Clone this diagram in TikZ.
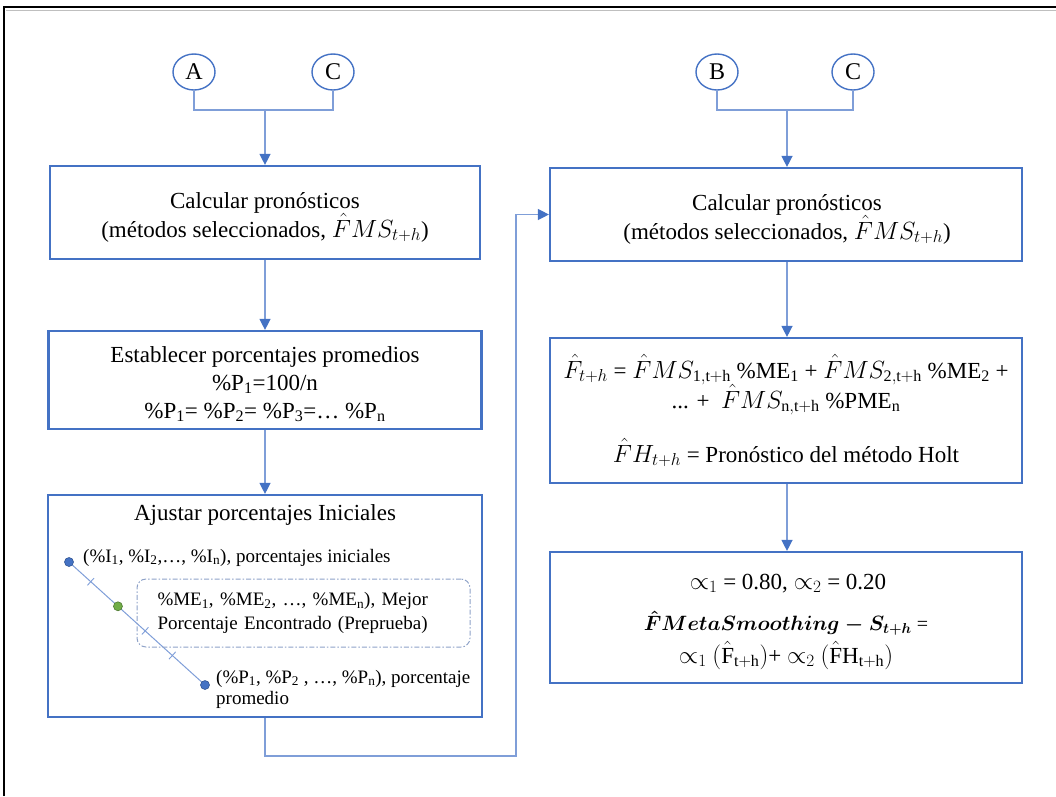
\documentclass[tikz,border=0pt]{standalone}
\usepackage{amsmath}
\usepackage{fontspec}
\setmainfont{Liberation Serif}
\usetikzlibrary{arrows.meta,shapes.geometric,calc}

\definecolor{boxblue}{HTML}{4472C4}
\definecolor{linkblue}{HTML}{7F9ED8}
\definecolor{dotgreen}{HTML}{70AD47}
\definecolor{dashgray}{HTML}{8EA2C8}

\tikzset{
  bigtext/.style={font=\fontsize{23}{28.5}\selectfont},
  smalltext/.style={font=\fontsize{19}{24}\selectfont},
  line/.style={anchor=base, inner sep=0pt, bigtext},
  stepbox/.style={draw=boxblue, line width=2.2pt, inner sep=0pt},
  connector/.style={draw=boxblue, ellipse, line width=1.4pt, inner sep=0pt,
    minimum width=42pt, minimum height=36pt, font=\fontsize{24}{28}\selectfont},
  link/.style={draw=linkblue, line width=1.3pt},
  arrowlink/.style={link, -{Triangle[length=11pt,width=11pt,color=boxblue]}},
  dotnode/.style={circle, fill=boxblue, draw=boxblue!75!black, line width=0.6pt,
    minimum size=9pt, inner sep=0pt},
  greendot/.style={dotnode, fill=dotgreen, draw=dotgreen!70!black},
  tick/.style={draw=linkblue, line width=0.9pt},
  bestbox/.style={draw=dashgray, line width=1pt, rounded corners=9pt,
    dash pattern=on 5pt off 2pt on 1.5pt off 2pt,
    minimum width=333pt, minimum height=68pt, inner sep=0pt,
    text width=292pt, align=left, smalltext},
}

\begin{document}
\begin{tikzpicture}[x=1pt,y=-1pt]
  \useasboundingbox (0,0) rectangle (1056,796);
  % page frame
  \draw[gray!50, line width=1pt] (6,10) -- (1056,10);
  \draw[black, line width=2pt] (4,796) -- (4,7) -- (1056,7);

  % connector circles
  \node[connector] (A)  at (194,72) {A};
  \node[connector] (C1) at (333,72) {C};
  \node[connector] (B)  at (717,72) {B};
  \node[connector] (C2) at (853,72) {C};
  \coordinate (mL) at (265,110);
  \coordinate (mR) at (787,110);

  % step boxes, left column
  \node[stepbox, minimum width=430pt, minimum height=93pt] (L1) at (265,212.5) {};
  \node[stepbox, minimum width=433pt, minimum height=98pt] (L2) at (265,380) {};
  \node[stepbox, minimum width=434pt, minimum height=222pt] (L3) at (265,606) {};

  % step boxes, right column
  \node[stepbox, minimum width=472pt, minimum height=93pt] (R1) at (786,214.5) {};
  \node[stepbox, minimum width=472pt, minimum height=145pt] (R2) at (786,410.5) {};
  \node[stepbox, minimum width=472pt, minimum height=131pt] (R3) at (786,617.5) {};

  % connectors between steps
  \draw[link] (A.south) |- (mL) -| (C1.south);
  \draw[arrowlink] (mL) -- (L1.north);
  \draw[link] (B.south) |- (mR) -| (C2.south);
  \draw[arrowlink] (mR) -- (R1.north -| mR);
  \draw[arrowlink] (L1.south) -- (L2.north);
  \draw[arrowlink] (L2.south) -- (L3.north);
  \draw[arrowlink] (R1.south -| mR) -- (R2.north -| mR);
  \draw[arrowlink] (R2.south -| mR) -- (R3.north -| mR);
  \coordinate (jB) at (265,756);
  \coordinate (jR) at (516,756);
  \draw[arrowlink] (L3.south -| jB) -- (jB) -- (jR) |- (R1.west);

  % forecast steps
  \node[line] (l1a) at (265,208) {Calcular pronósticos};
  \node[line] (l1b) at (265,237) {(métodos seleccionados, $\hat{F}MS_{t+h}$)};
  \node[line] (r1a) at (787,210) {Calcular pronósticos};
  \node[line] (r1b) at (787,239) {(métodos seleccionados, $\hat{F}MS_{t+h}$)};

  % average percentages
  \node[line] (l2a) at (265,362) {Establecer porcentajes promedios};
  \node[line] (l2b) at (265,390) {\%P\textsubscript{1}=100/n};
  \node[line] (l2c) at (265,418)
    {\%P\textsubscript{1}= \%P\textsubscript{2}= \%P\textsubscript{3}=… \%P\textsubscript{n}};

  % contents of the adjustment step
  \node[line] (L3t) at (265,520) {Ajustar porcentajes Iniciales};
  \coordinate (p1) at (69,562);
  \coordinate (p2) at (205,685);
  \coordinate (pg) at ($(p1)!0.36!(p2)$);
  \draw[link, line width=1pt] (p1) -- (p2);
  \foreach \f in {0.16,0.56,0.76}
    \draw[tick] ($(p1)!\f!(p2)$) +(3.3,-3.6) -- +(-3.3,3.6);
  \node[dotnode] (d1) at (p1) {};
  \node[greendot] (g) at (pg) {};
  \node[dotnode] (d2) at (p2) {};
  \node[smalltext, anchor=base west, inner sep=0pt] (ini) at (83,562)
    {(\%I\textsubscript{1}, \%I\textsubscript{2},…, \%I\textsubscript{n}), porcentajes iniciales};
  \node[bestbox] (best) at (303.5,613)
    {\%ME\textsubscript{1}, \%ME\textsubscript{2}, …, \%ME\textsubscript{n}), Mejor\\
     Porcentaje Encontrado (Preprueba)};
  \node[smalltext, anchor=base west, inner sep=0pt] (avg1) at (216,683)
    {(\%P\textsubscript{1}, \%P\textsubscript{2} , …, \%P\textsubscript{n}), porcentaje};
  \node[smalltext, anchor=base west, inner sep=0pt] (avg2) at (216,704) {promedio};

  % contents of the combination step
  \node[line] (r2a) at (786,378)
    {$\hat{F}_{t+h}$ = $\hat{F}MS_{\mathrm{1,t+h}}$ \%ME\textsubscript{1} + $\hat{F}MS_{\mathrm{2,t+h}}$ \%ME\textsubscript{2} +};
  \node[line] (r2b) at (786,408)
    {... + \ $\hat{F}MS_{\mathrm{n,t+h}}$ \%PME\textsubscript{n}};
  \node[line] (r2c) at (786,462)
    {$\hat{F}H_{t+h}$ = Pronóstico del método Holt};

  % contents of the final step
  \node[line] (r3a) at (788,589)
    {$\propto_{1}$ = 0.80, $\propto_{2}$ = 0.20};
  \node[line, font=\fontsize{20}{25}\selectfont] (r3b) at (786,630)
    {$\boldsymbol{\hat{F}MetaSmoothing-S_{t+h}}$ =};
  \node[line] (r3c) at (786,663)
    {$\propto_{1}$ $(\hat{\mathrm{F}}_{\mathrm{t+h}})$+ $\propto_{2}$ $(\hat{\mathrm{F}}\mathrm{H}_{\mathrm{t+h}})$};
\end{tikzpicture}
\end{document}
